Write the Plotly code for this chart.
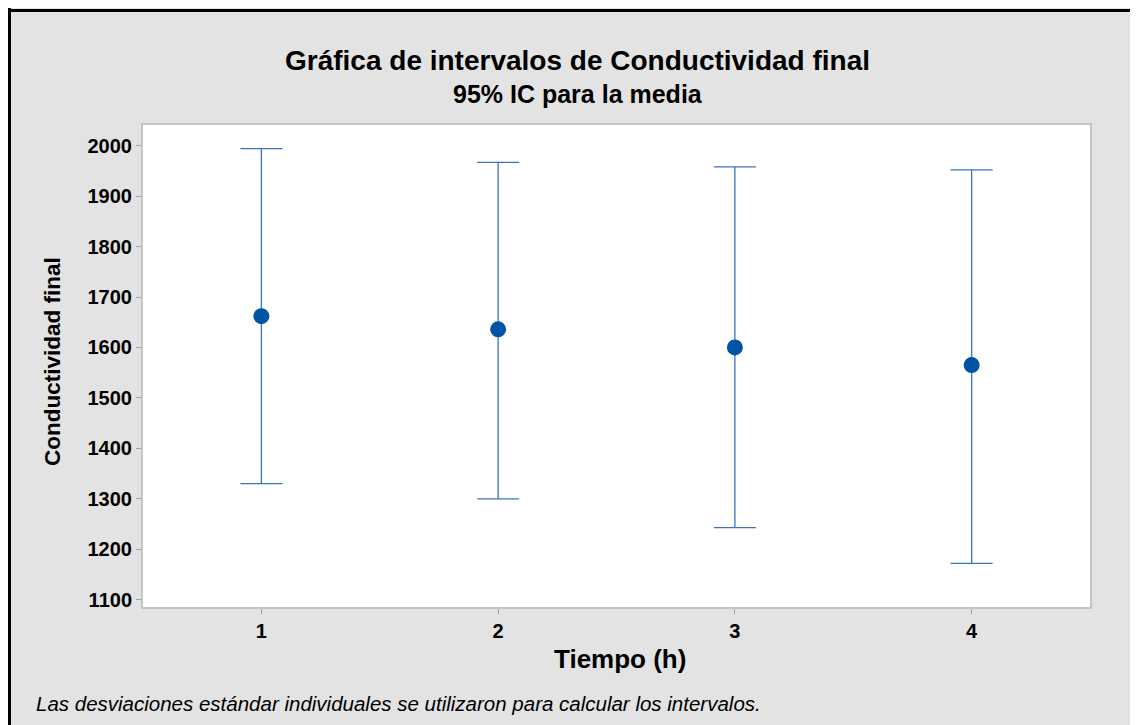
import plotly.graph_objects as go

tiempo = [1, 2, 3, 4]
media = [1662, 1636, 1600, 1565]
ic_superior = [1994, 1967, 1958, 1952]
ic_inferior = [1330, 1300, 1243, 1172]
x_ticks = [1, 2, 3, 4]
y_ticks = [1100, 1200, 1300, 1400, 1500, 1600, 1700, 1800, 1900, 2000]

err_plus = [u - m for u, m in zip(ic_superior, media)]
err_minus = [m - l for m, l in zip(media, ic_inferior)]

# page body has an 8px margin: figure coordinates = screenshot coordinates - 8
OFF = 8
W, H = 1138 - OFF, 725 - OFF
L, R, T, B = 143 - OFF, 48, 125 - OFF, 118
pw, ph = W - L - R, H - T - B

def px_x(p):
    return (p - OFF - L) / pw

def px_y(p):
    return 1 - (p - OFF - T) / ph

font_main = "Liberation Sans, Arial, sans-serif"

fig = go.Figure()
fig.add_trace(go.Scatter(
    x=tiempo, y=media, mode="markers",
    marker=dict(size=16, color="#0054A6", symbol="circle"),
    error_y=dict(type="data", symmetric=False, array=err_plus, arrayminus=err_minus,
                 color="#3A75BC", thickness=1.3, width=21),
    showlegend=False, hoverinfo="x+y",
))

fig.update_layout(
    width=W, height=H,
    margin=dict(l=L, r=R, t=T, b=B, autoexpand=False),
    paper_bgcolor="#E3E3E3", plot_bgcolor="white",
    font=dict(family=font_main, color="black"),
    xaxis=dict(range=[0.5, 4.5], tickvals=x_ticks, ticktext=[str(v) for v in x_ticks],
               showgrid=False, zeroline=False, showline=True, linecolor="#C4C4C4", linewidth=2,
               mirror=True, ticks="outside", ticklen=5, tickcolor="#A0A0A0",
               tickfont=dict(size=20, family=font_main, color="black", weight="bold")),
    yaxis=dict(range=[1085.5, 2041], tickvals=y_ticks, ticktext=[str(v) for v in y_ticks],
               showgrid=False, zeroline=False, showline=True, linecolor="#C4C4C4", linewidth=2,
               mirror=True, ticks="outside", ticklen=5, tickcolor="#A0A0A0",
               tickfont=dict(size=20, family=font_main, color="black", weight="bold")),
    annotations=[
        dict(text="<b>Gráfica de intervalos de Conductividad final</b>", xref="paper", yref="paper",
             x=px_x(577), y=px_y(60), xanchor="center", yanchor="middle", showarrow=False,
             font=dict(size=28, family=font_main)),
        dict(text="<b>95% IC para la media</b>", xref="paper", yref="paper",
             x=px_x(578), y=px_y(94), xanchor="center", yanchor="middle", showarrow=False,
             font=dict(size=25, family=font_main)),
        dict(text="<b>Tiempo (h)</b>", xref="paper", yref="paper",
             x=px_x(620), y=px_y(659), xanchor="center", yanchor="middle", showarrow=False,
             font=dict(size=26, family=font_main)),
        dict(text="<b>Conductividad final</b>", xref="paper", yref="paper", textangle=-90,
             x=px_x(52), y=px_y(362), xanchor="center", yanchor="middle", showarrow=False,
             font=dict(size=22.5, family=font_main)),
        dict(text="<i>Las desviaciones estándar individuales se utilizaron para calcular los intervalos.</i>",
             xref="paper", yref="paper", x=px_x(34), y=px_y(703), xanchor="left", yanchor="middle",
             showarrow=False, font=dict(size=20.5, family=font_main)),
    ],
    shapes=[
        dict(type="line", xref="paper", yref="paper", x0=px_x(9.5), x1=px_x(9.5), y0=px_y(8), y1=px_y(740),
             line=dict(color="black", width=3)),
        dict(type="line", xref="paper", yref="paper", x0=px_x(8), x1=px_x(1150), y0=px_y(10.5), y1=px_y(10.5),
             line=dict(color="black", width=3)),
    ],
)

fig.write_html("out.html")
